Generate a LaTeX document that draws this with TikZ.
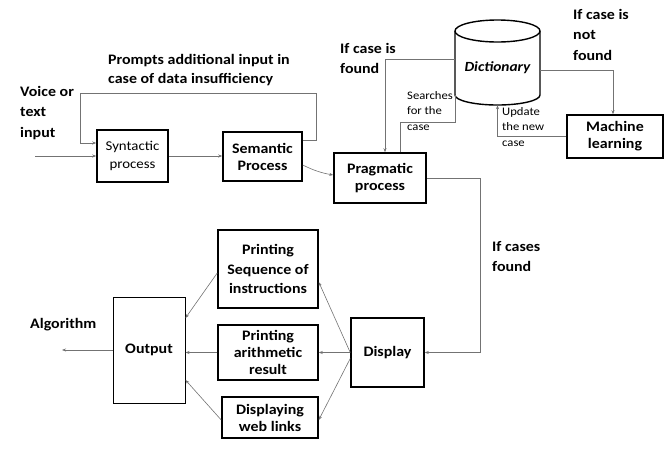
\documentclass[tikz,border=0pt]{standalone}
\usepackage{fontspec}
\setmainfont{Carlito}[FakeStretch=1.1]
\usetikzlibrary{arrows.meta}
\begin{document}
\begin{tikzpicture}[x=1pt,y=-1pt,
  box/.style={draw=black,line width=1.5pt,align=center,inner sep=1pt,
    font=\fontsize{14.5}{17}\selectfont\bfseries},
  conn/.style={draw=black!55,line width=0.6pt,-{Stealth[length=4pt,width=3pt]}},
  plain/.style={draw=black!55,line width=0.6pt},
  lbl/.style={align=left,inner sep=0pt,font=\fontsize{14.5}{20.5}\selectfont\bfseries},
  small/.style={align=left,inner sep=0pt,font=\fontsize{11.5}{15.5}\selectfont}]
\useasboundingbox (0,0) rectangle (670,450);

% process boxes
\node[box,minimum width=71pt,minimum height=52pt,font=\fontsize{13.5}{18}\selectfont] (syn) at (132.5,156) {Syntactic\\process};
\node[box,minimum width=79pt,minimum height=49pt] (sem) at (262.5,156.5) {Semantic\\Process};
\node[box,minimum width=92pt,minimum height=50pt] (prag) at (380,178) {Pragmatic\\process};
\node[box,minimum width=96pt,minimum height=43pt] (ml) at (615,136.5) {Machine\\learning};
\node[box,minimum width=73pt,minimum height=69pt] (disp) at (387.5,352.5) {Display};
\node[box,minimum width=100pt,minimum height=78pt,font=\fontsize{14.5}{19.5}\selectfont\bfseries] (pseq) at (268,269) {Printing\\Sequence of\\instructions};
\node[box,minimum width=100pt,minimum height=55pt,font=\fontsize{14.5}{17}\selectfont\bfseries] (parith) at (268,352.5) {Printing\\arithmetic\\result};
\node[box,minimum width=96pt,minimum height=41pt] (web) at (270,417.5) {Displaying\\web links};
\node[box,line width=1pt,minimum width=72pt,minimum height=106pt] (out) at (149,350) {Output};

% dictionary store drawn as a cylinder
\node[minimum width=85pt,minimum height=85pt,inner sep=0pt] (dict) at (497.5,62.5) {};
\draw[black,line width=1.4pt,fill=white]
  (455,31) -- (455,95) arc[start angle=180,end angle=360,x radius=42.5,y radius=-10]
  -- (540,31) arc[start angle=0,end angle=180,x radius=42.5,y radius=-11] -- cycle;
\draw[black,line width=1.4pt] (455,31) arc[start angle=180,end angle=360,x radius=42.5,y radius=-11];
\node[font=\fontsize{14}{16}\selectfont\bfseries\itshape] at (497.5,68) {Dictionary};

% free ends
\coordinate (inS) at (35,156);
\coordinate (alg) at (62,350);

% connectors
\draw[conn] (inS) -- (inS -| syn.west);
\draw[conn] ([yshift=16pt]sem.east) -- (316,140.5) -- (316,93) -- (80,93) |- ([yshift=13pt]syn.west);
\draw[conn] (syn.east) -- (syn.east -| sem.west);
\draw[conn] ([yshift=-8.5pt]sem.east) to[bend right=8] ([yshift=3pt]prag.west);
\draw[conn] ([yshift=3pt]dict.west) -| ([xshift=5pt]prag.north);
\draw[plain] ([xshift=20pt]prag.north) -- ++(0,-30) -| ([yshift=10pt]dict.south west);
\draw[conn] (ml.west) -| (dict.south);
\draw[conn] ([yshift=-7.5pt]dict.east) -| ([xshift=-2pt]ml.north);
\draw[conn] (prag.east) -- ++(54,0) |- (disp.east);
\draw[conn] (disp.west) -- ([yshift=-13pt]pseq.east);
\draw[conn] (disp.west) -- (parith.east);
\draw[conn] ([yshift=-6pt]disp.west) -- ([yshift=-2.5pt]web.east);
\draw[conn] ([yshift=-4pt]pseq.west) -- ([yshift=32pt]out.east);
\draw[conn] (parith.west) -- (parith.west -| out.east);
\draw[conn] ([yshift=-2.5pt]web.west) -- ([yshift=-30pt]out.east);
\draw[conn] (out.west) -- (alg);

% labels
\node[lbl,anchor=north west] (tin) at (20,86) {Voice or\\text\\input};
\node[lbl,anchor=north west,font=\fontsize{14.5}{19}\selectfont\bfseries] (tprompt) at (108,54) {Prompts additional input in\\case of data insufficiency};
\node[lbl,anchor=north west] (tfound) at (340,43) {If case is\\found};
\node[lbl,anchor=north west] (tnot) at (573,9) {If case is\\not\\found};
\node[small,anchor=north west] (tsearch) at (407,91) {Searches\\for the\\case};
\node[small,anchor=north west] (tupdate) at (502,107) {Update\\the new\\case};
\node[lbl,anchor=north west] (tcases) at (492,241) {If cases\\found};
\node[lbl,anchor=north west] (talg) at (30,318) {Algorithm};
\end{tikzpicture}
\end{document}
